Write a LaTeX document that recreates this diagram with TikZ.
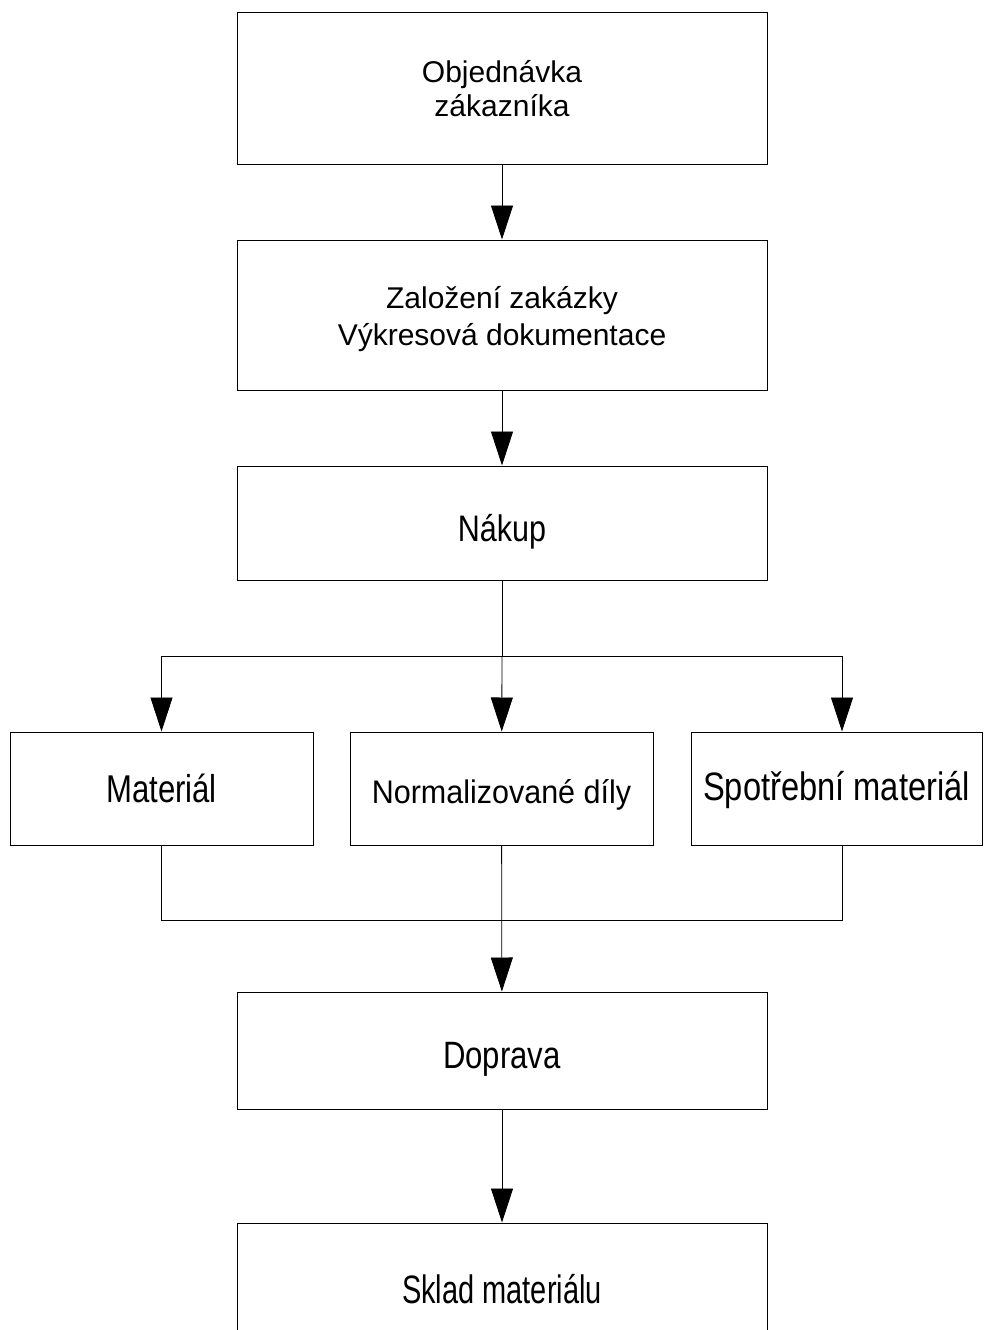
\documentclass[tikz,border=0pt]{standalone}
\usepackage{fontspec}
\setmainfont{Liberation Sans}
\usetikzlibrary{arrows.meta}
% label text scaled horizontally (#1) and vertically (#2)
\newcommand{\vstr}[3]{\scalebox{#1}[#2]{#3}}
\begin{document}
\begin{tikzpicture}[x=1pt,y=-1pt,
  box/.style={draw=black,line width=1pt,rectangle,inner sep=0pt,align=center,
    font=\fontsize{30.5}{37}\selectfont,text depth=0pt},
  conn/.style={draw=black,line width=0.8pt},
  arr/.style={conn,-{Triangle[length=34pt,width=22pt]}}]
\useasboundingbox (0,0) rectangle (983,1330);
\fill[white] (0,0) rectangle (983,1330);
% main column of boxes
\node[box,minimum width=530pt,minimum height=151pt,
  font=\fontsize{30}{34}\selectfont,text height=56pt]
  (order) at (502,88.5) {Objednávka\\zákazníka};
\node[box,minimum width=530pt,minimum height=150pt,
  font=\fontsize{30}{37}\selectfont,text height=60.6pt]
  (job) at (502,315) {Založení zakázky\\Výkresová dokumentace};
\node[box,minimum width=530pt,minimum height=114pt,text height=37.4pt]
  (buy) at (502,523) {\vstr{1}{1.21}{Nákup}};
% purchased items
\node[box,minimum width=303pt,minimum height=113pt,text height=28.4pt]
  (mat) at (161.5,788.5) {\vstr{1.02}{1.27}{Materiál}};
\node[box,minimum width=303pt,minimum height=113pt,text height=29.6pt]
  (norm) at (501.5,788.5) {\vstr{1}{1.07}{Normalizované díly}};
\node[box,minimum width=291pt,minimum height=113pt,text height=23pt]
  (cons) at (836.5,788.5) {\vstr{1.07}{1.3}{Spotřební materiál}};
% transport and storage
\node[box,minimum width=530pt,minimum height=117pt,text height=35pt]
  (trans) at (502,1050.5) {\vstr{1.02}{1.25}{Doprava}};
\node[box,minimum width=530pt,minimum height=120pt,text height=40pt]
  (store) at (502,1283) {\vstr{0.95}{1.3}{Sklad materiálu}};
% junction points
\coordinate (split) at (502,656);
\coordinate (splitL) at (161.5,656);
\coordinate (splitR) at (842,656);
\coordinate (merge) at (502,920);
% connectors
\draw[arr] (order) -- (job);
\draw[arr] (job) -- (buy);
\draw[conn] (buy) -- (split);
\draw[conn] (splitL) -- (splitR);
\draw[arr] (splitL) -- (mat.north);
\draw[arr] (split) -- (norm);
\draw[arr] (splitR) -- (splitR |- cons.north);
\draw[conn] (mat.south) |- (merge);
\draw[conn] (cons.south -| splitR) |- (merge);
\draw[arr] (norm) -- (trans);
\draw[arr] (trans) -- (store);
\end{tikzpicture}
\end{document}
